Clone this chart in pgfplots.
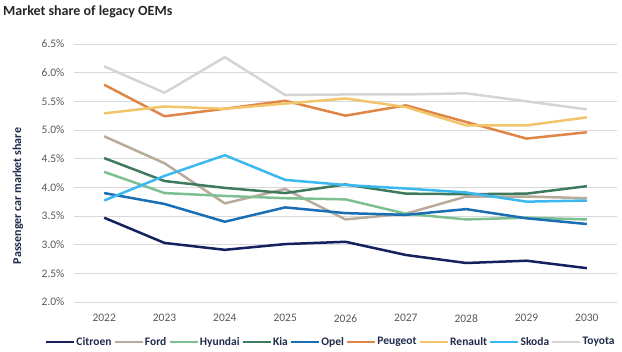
\documentclass[border=0pt]{standalone}
\usepackage{fontspec}
\setmainfont{Carlito}
\usepackage{pgfplots}
\pgfplotsset{compat=1.18}
\definecolor{cCit}{HTML}{14215E}
\definecolor{cFord}{HTML}{B8AB9B}
\definecolor{cHyu}{HTML}{7CC092}
\definecolor{cKia}{HTML}{3D7A5E}
\definecolor{cOpel}{HTML}{1A6EB3}
\definecolor{cPeu}{HTML}{DE8547}
\definecolor{cRen}{HTML}{F2C56A}
\definecolor{cSko}{HTML}{3CB8F0}
\definecolor{cToy}{HTML}{D4D4D4}
\definecolor{gridc}{HTML}{D9D9D9}
\definecolor{tickc}{HTML}{595959}
\definecolor{navyt}{HTML}{1E2A4A}
\begin{document}
\begin{tikzpicture}
\path[use as bounding box] (0pt,0pt) rectangle (622pt,352pt);
\node[anchor=west, font=\fontsize{14}{16}\selectfont\bfseries, text=black!85, inner sep=0] at (3pt,340pt) {Market share of legacy OEMs};
\node[rotate=90, font=\fontsize{12}{14}\selectfont\bfseries, text=navyt, inner sep=0] at (18pt,156pt) {Passenger car market share};
\begin{axis}[
  at={(74pt,50pt)}, anchor=south west,
  scale only axis, width=543pt, height=258pt,
  xmin=-0.5, xmax=8.5, ymin=2.0, ymax=6.5,
  xtick={0,...,8},
  xticklabels={2022,2023,2024,2025,2026,2027,2028,2029,2030},
  ytick={2.0,2.5,...,6.5},
  yticklabel={\pgfmathprintnumber[fixed,fixed zerofill,precision=1]{\tick}\%},
  /pgf/number format/assume math mode=true,
  axis line style={draw=none},
  major tick length=0pt,
  ymajorgrids, grid style={gridc, line width=0.75pt},
  tick label style={font=\fontsize{11.5}{13}\selectfont, text=tickc},
  yticklabel style={xshift=-6pt},
  xticklabel style={yshift=-9pt},
  every axis plot/.append style={line width=2.5pt, mark=none, line join=round},
  legend columns=9,
  legend style={at={(0.472,-0.155)}, anchor=center, draw=none, fill=none,
    font=\fontsize{11.5}{13}\selectfont\bfseries, text=navyt,
    /tikz/every even column/.append style={column sep=1pt},
    nodes={inner sep=1pt}},
  legend image code/.code={\draw[#1, line width=2.5pt] (0pt,0pt) -- (28pt,0pt);},
]
\addplot[cCit] coordinates {(0,3.47)(1,3.03)(2,2.91)(3,3.01)(4,3.05)(5,2.82)(6,2.68)(7,2.72)(8,2.59)};
\addlegendentry{Citroen}
\addplot[cFord] coordinates {(0,4.89)(1,4.42)(2,3.72)(3,3.97)(4,3.44)(5,3.54)(6,3.84)(7,3.84)(8,3.81)};
\addlegendentry{Ford}
\addplot[cHyu] coordinates {(0,4.27)(1,3.90)(2,3.85)(3,3.81)(4,3.79)(5,3.54)(6,3.44)(7,3.47)(8,3.44)};
\addlegendentry{Hyundai}
\addplot[cKia] coordinates {(0,4.51)(1,4.11)(2,3.99)(3,3.90)(4,4.05)(5,3.89)(6,3.88)(7,3.89)(8,4.02)};
\addlegendentry{Kia}
\addplot[cOpel] coordinates {(0,3.90)(1,3.71)(2,3.40)(3,3.65)(4,3.55)(5,3.52)(6,3.62)(7,3.46)(8,3.36)};
\addlegendentry{Opel}
\addplot[cPeu] coordinates {(0,5.79)(1,5.24)(2,5.37)(3,5.51)(4,5.25)(5,5.43)(6,5.14)(7,4.85)(8,4.96)};
\addlegendentry{Peugeot}
\addplot[cRen] coordinates {(0,5.29)(1,5.41)(2,5.37)(3,5.46)(4,5.55)(5,5.40)(6,5.08)(7,5.08)(8,5.22)};
\addlegendentry{Renault}
\addplot[cSko] coordinates {(0,3.77)(1,4.20)(2,4.56)(3,4.13)(4,4.04)(5,3.98)(6,3.91)(7,3.75)(8,3.77)};
\addlegendentry{Skoda}
\addplot[cToy] coordinates {(0,6.11)(1,5.65)(2,6.27)(3,5.61)(4,5.62)(5,5.62)(6,5.64)(7,5.50)(8,5.36)};
\addlegendentry{Toyota}
\end{axis}
\end{tikzpicture}
\end{document}
